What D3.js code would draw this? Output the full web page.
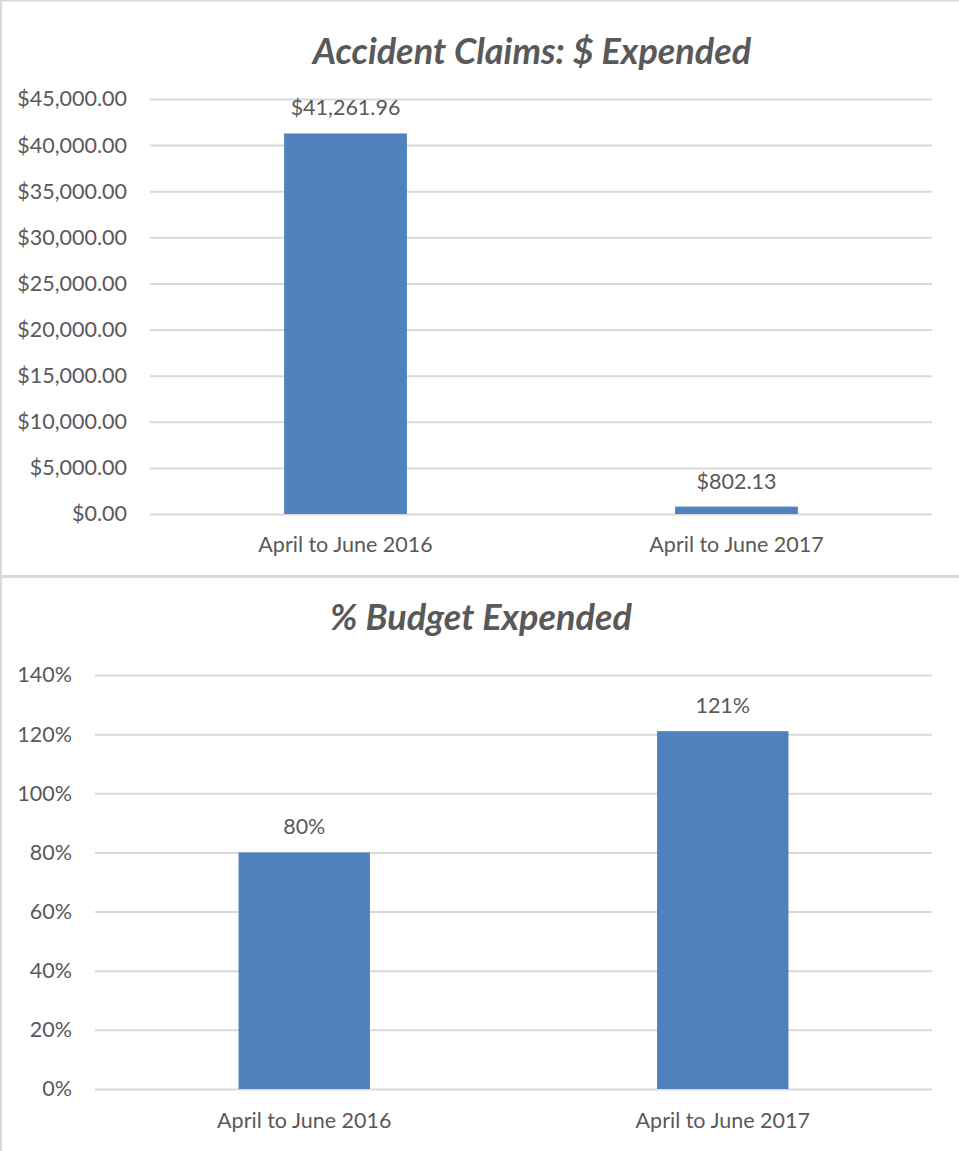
<!DOCTYPE html>
<html>
<head>
<meta charset="utf-8">
<script src="https://cdn.jsdelivr.net/npm/d3@7"></script>
<style>
  body { margin: 0; background: #fff; }
  svg { display: block; }
  text { font-family: Lato, 'Open Sans', sans-serif; fill: #595959; }
</style>
</head>
<body>
<div id="chart"></div>
<script>
// data
const periods = ['April to June 2016', 'April to June 2017']
const claimsExpended = [41261.96, 802.13]
const claimsTicks = [0, 5000, 10000, 15000, 20000, 25000, 30000, 35000, 40000, 45000]
const budgetPct = [0.80, 1.21]
const budgetTicks = [0, 0.2, 0.4, 0.6, 0.8, 1.0, 1.2, 1.4]

const width = 959
const height = 1151
const barColor = '#4f81bd'
const gridColor = '#d9d9d9'
const labelSize = 21.5

const svg = d3.select('#chart')
  .append('svg')
  .attr('width', width)
  .attr('height', height)

// chart frames
svg.append('rect')
  .attr('x', 1).attr('y', 0.5)
  .attr('width', width + 10).attr('height', 575.5)
  .attr('fill', 'none').attr('stroke', gridColor).attr('stroke-width', 2)
svg.append('rect')
  .attr('x', 1).attr('y', 577)
  .attr('width', width + 10).attr('height', 590)
  .attr('fill', 'none').attr('stroke', gridColor).attr('stroke-width', 2)

const money = v => '$' + d3.format(',.2f')(v)
const pct = d3.format('.0%')

function drawChart(opts) {
  const g = svg.append('g')

  const x = d3.scaleBand()
    .domain(opts.categories)
    .range([opts.left, opts.right])
    .paddingInner(0.686)
    .paddingOuter(0.343)

  const y = d3.scaleLinear()
    .domain([0, d3.max(opts.ticks)])
    .range([opts.bottom, opts.top])

  // title
  g.append('text')
    .text(opts.title)
    .attr('x', opts.titleX)
    .attr('y', opts.titleY)
    .attr('text-anchor', 'middle')
    .attr('font-size', 36)
    .attr('font-weight', 700)
    .attr('font-style', 'italic')

  // gridlines + y labels
  const yAxis = d3.axisLeft(y)
    .tickValues(opts.ticks)
    .tickSize(-(opts.right - opts.left))
    .tickPadding(23)
    .tickFormat(opts.format)

  const ya = g.append('g')
    .attr('transform', `translate(${opts.left},0)`)
    .call(yAxis)
  ya.select('.domain').remove()
  ya.selectAll('line').attr('stroke', gridColor).attr('stroke-width', 2)
  ya.selectAll('text')
    .attr('font-size', labelSize)
    .attr('fill', '#595959')
    .style('font-family', 'Lato, sans-serif')

  // category labels
  const xAxis = d3.axisBottom(x).tickSize(0).tickPadding(opts.catPad)
  const xa = g.append('g')
    .attr('transform', `translate(0,${opts.bottom})`)
    .call(xAxis)
  xa.select('.domain').remove()
  xa.selectAll('text')
    .attr('font-size', labelSize)
    .attr('fill', '#595959')
    .style('font-family', 'Lato, sans-serif')

  // bars
  g.selectAll('.bar')
    .data(opts.values)
    .enter()
    .append('rect')
    .attr('class', 'bar')
    .attr('x', (d, i) => x(opts.categories[i]))
    .attr('width', x.bandwidth())
    .attr('y', d => y(d))
    .attr('height', d => opts.bottom - y(d))
    .attr('fill', barColor)

  // value labels
  g.selectAll('.val')
    .data(opts.values)
    .enter()
    .append('text')
    .attr('class', 'val')
    .text(d => opts.labelFormat(d))
    .attr('x', (d, i) => x(opts.categories[i]) + x.bandwidth() / 2)
    .attr('y', d => y(d) - 18)
    .attr('text-anchor', 'middle')
    .attr('font-size', labelSize)
}

drawChart({
  title: 'Accident Claims: $ Expended',
  titleX: 532, titleY: 64,
  categories: periods,
  values: claimsExpended,
  ticks: claimsTicks,
  format: money,
  labelFormat: money,
  left: 150, right: 932, top: 99, bottom: 514,
  catPad: 23
})

drawChart({
  title: '% Budget Expended',
  titleX: 481, titleY: 630,
  categories: periods,
  values: budgetPct,
  ticks: budgetTicks,
  format: pct,
  labelFormat: pct,
  left: 95, right: 932, top: 675, bottom: 1089,
  catPad: 24
})
</script>
</body>
</html>
